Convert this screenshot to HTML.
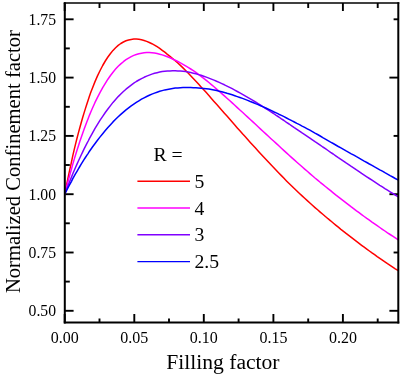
<!DOCTYPE html>
<html><head><meta charset="utf-8"><style>
html,body{margin:0;padding:0;background:#fff;}
svg{display:block;font-family:"Liberation Serif",serif;}
</style></head><body>
<svg width="403" height="376" viewBox="0 0 403 376">
<rect width="403" height="376" fill="#fff"/>
<defs><clipPath id="c"><rect x="64.80" y="2.95" width="333.50" height="319.55"/></clipPath></defs>
<g fill="none" stroke="#000" stroke-width="1.9">
<path d="M64.7 322.5V314.1M64.7 3.0V11.1"/><path d="M99.5 322.5V318.4M99.5 3.0V7.9"/><path d="M134.3 322.5V314.1M134.3 3.0V11.1"/><path d="M169.0 322.5V318.4M169.0 3.0V7.9"/><path d="M203.8 322.5V314.1M203.8 3.0V11.1"/><path d="M238.6 322.5V318.4M238.6 3.0V7.9"/><path d="M273.4 322.5V314.1M273.4 3.0V11.1"/><path d="M308.2 322.5V318.4M308.2 3.0V7.9"/><path d="M342.9 322.5V314.1M342.9 3.0V11.1"/><path d="M377.7 322.5V318.4M377.7 3.0V7.9"/><path d="M64.8 310.8H73.6"/><path d="M64.8 281.6H69.8"/><path d="M64.8 252.5H73.6"/><path d="M64.8 223.3H69.8"/><path d="M64.8 194.2H73.6"/><path d="M64.8 165.0H69.8"/><path d="M64.8 135.9H73.6"/><path d="M64.8 106.8H69.8"/><path d="M64.8 77.6H73.6"/><path d="M64.8 48.4H69.8"/><path d="M64.8 19.3H73.6"/><path d="M398.3 310.8H389.4"/><path d="M398.3 252.5H393.6"/><path d="M398.3 194.2H389.4"/><path d="M398.3 135.9H393.6"/><path d="M398.3 77.6H389.4"/><path d="M398.3 19.3H393.6"/>
</g>
<g clip-path="url(#c)" fill="none" stroke-width="1.5" stroke-linejoin="round">
<path d="M64.5 195.1L65.9 188.1L67.3 181.3L68.7 174.7L70.1 168.2L71.5 161.8L72.8 155.7L74.2 149.7L75.6 143.9L77.0 138.3L78.4 132.9L79.8 127.7L81.2 122.7L82.6 117.8L84.0 113.1L85.4 108.6L86.8 104.2L88.2 100.0L89.5 96.0L90.9 92.1L92.3 88.4L94.9 81.9L97.5 75.9L100.1 70.5L102.7 65.5L105.3 61.0L107.9 57.0L110.5 53.5L113.0 50.4L115.6 47.7L118.2 45.4L120.8 43.5L123.4 42.0L126.0 40.8L128.6 40.0L131.2 39.4L133.8 39.1L136.3 39.1L138.9 39.3L141.5 39.8L144.1 40.5L146.7 41.4L149.3 42.5L151.9 43.7L154.5 45.1L157.1 46.7L159.7 48.4L162.2 50.3L164.8 52.2L167.4 54.3L170.0 56.3L172.6 58.5L175.2 60.7L177.8 63.0L180.4 65.4L183.0 67.9L185.6 70.5L188.1 73.1L190.7 75.8L193.3 78.5L195.9 81.2L198.5 84.0L201.1 86.9L203.7 89.7L206.3 92.6L208.9 95.5L211.4 98.4L214.0 101.4L216.6 104.3L219.2 107.3L221.8 110.2L224.4 113.2L227.0 116.1L229.6 119.1L232.2 122.1L234.8 125.0L237.3 127.9L239.9 130.8L242.5 133.8L245.1 136.6L247.7 139.5L250.3 142.4L252.9 145.2L255.5 148.1L258.1 150.9L260.6 153.7L263.2 156.5L265.8 159.2L268.4 162.0L271.0 164.8L273.6 167.5L276.2 170.3L278.8 173.0L281.4 175.6L284.0 178.3L286.5 180.9L289.1 183.5L291.7 186.0L294.3 188.5L296.9 191.0L299.5 193.5L302.1 195.9L304.7 198.3L307.3 200.6L309.9 203.0L312.4 205.3L315.0 207.6L317.6 209.8L320.2 212.1L322.8 214.3L325.4 216.5L328.0 218.7L330.6 220.8L333.2 223.0L335.7 225.1L338.3 227.2L340.9 229.3L343.5 231.3L346.1 233.4L348.7 235.4L351.3 237.4L353.9 239.4L356.5 241.4L359.1 243.4L361.6 245.3L364.2 247.2L366.8 249.1L369.4 251.0L372.0 252.9L374.6 254.7L377.2 256.6L379.8 258.4L382.4 260.2L384.9 261.9L387.5 263.7L390.1 265.4L392.7 267.1L395.3 268.8L397.9 270.4L400.5 272.1" stroke="#ff0000"/>
<path d="M64.5 194.9L65.9 189.5L67.3 184.2L68.7 179.0L70.1 173.9L71.5 169.0L72.8 164.1L74.2 159.4L75.6 154.8L77.0 150.3L78.4 145.9L79.8 141.6L81.2 137.5L82.6 133.5L84.0 129.6L85.4 125.8L86.8 122.1L88.2 118.5L89.5 115.1L90.9 111.7L92.3 108.5L94.9 102.7L97.5 97.3L100.1 92.3L102.7 87.6L105.3 83.3L107.9 79.2L110.5 75.5L113.0 72.2L115.6 69.1L118.2 66.3L120.8 63.9L123.4 61.7L126.0 59.7L128.6 58.1L131.2 56.6L133.8 55.4L136.3 54.5L138.9 53.7L141.5 53.2L144.1 52.8L146.7 52.6L149.3 52.6L151.9 52.8L154.5 53.1L157.1 53.6L159.7 54.2L162.2 54.9L164.8 55.8L167.4 56.8L170.0 57.8L172.6 59.0L175.2 60.2L177.8 61.5L180.4 62.9L183.0 64.3L185.6 65.9L188.1 67.4L190.7 69.0L193.3 70.7L195.9 72.4L198.5 74.3L201.1 76.3L203.7 78.3L206.3 80.4L208.9 82.5L211.4 84.6L214.0 86.8L216.6 89.1L219.2 91.3L221.8 93.6L224.4 95.9L227.0 98.2L229.6 100.5L232.2 102.9L234.8 105.2L237.3 107.6L239.9 110.0L242.5 112.3L245.1 114.7L247.7 117.1L250.3 119.5L252.9 121.9L255.5 124.3L258.1 126.7L260.6 129.1L263.2 131.5L265.8 133.9L268.4 136.3L271.0 138.7L273.6 141.0L276.2 143.4L278.8 145.8L281.4 148.2L284.0 150.6L286.5 152.9L289.1 155.3L291.7 157.6L294.3 159.9L296.9 162.2L299.5 164.5L302.1 166.8L304.7 169.1L307.3 171.3L309.9 173.6L312.4 175.8L315.0 178.0L317.6 180.1L320.2 182.3L322.8 184.4L325.4 186.5L328.0 188.6L330.6 190.7L333.2 192.8L335.7 194.9L338.3 196.9L340.9 198.9L343.5 200.9L346.1 202.9L348.7 204.9L351.3 206.9L353.9 208.8L356.5 210.8L359.1 212.7L361.6 214.6L364.2 216.5L366.8 218.4L369.4 220.2L372.0 222.1L374.6 223.9L377.2 225.7L379.8 227.5L382.4 229.3L384.9 231.0L387.5 232.8L390.1 234.5L392.7 236.2L395.3 237.9L397.9 239.6L400.5 241.3" stroke="#ff00ff"/>
<path d="M64.5 194.7L65.9 191.1L67.3 187.5L68.7 184.0L70.1 180.5L71.5 177.1L72.8 173.8L74.2 170.5L75.6 167.3L77.0 164.1L78.4 161.0L79.8 158.0L81.2 155.0L82.6 152.1L84.0 149.2L85.4 146.4L86.8 143.7L88.2 141.0L89.5 138.3L90.9 135.8L92.3 133.3L94.9 128.7L97.5 124.4L100.1 120.2L102.7 116.3L105.3 112.5L107.9 109.0L110.5 105.6L113.0 102.4L115.6 99.4L118.2 96.6L120.8 94.0L123.4 91.5L126.0 89.2L128.6 87.1L131.2 85.1L133.8 83.2L136.3 81.5L138.9 80.0L141.5 78.6L144.1 77.3L146.7 76.1L149.3 75.1L151.9 74.1L154.5 73.3L157.1 72.7L159.7 72.1L162.2 71.6L164.8 71.3L167.4 71.0L170.0 70.9L172.6 70.8L175.2 70.8L177.8 70.9L180.4 71.0L183.0 71.2L185.6 71.6L188.1 72.1L190.7 72.6L193.3 73.2L195.9 73.8L198.5 74.6L201.1 75.3L203.7 76.2L206.3 77.1L208.9 78.1L211.4 79.1L214.0 80.1L216.6 81.3L219.2 82.4L221.8 83.6L224.4 84.8L227.0 86.1L229.6 87.4L232.2 88.7L234.8 90.1L237.3 91.5L239.9 92.9L242.5 94.3L245.1 95.8L247.7 97.3L250.3 98.8L252.9 100.4L255.5 102.0L258.1 103.6L260.6 105.2L263.2 106.8L265.8 108.5L268.4 110.2L271.0 111.8L273.6 113.5L276.2 115.3L278.8 117.0L281.4 118.8L284.0 120.5L286.5 122.3L289.1 124.0L291.7 125.8L294.3 127.6L296.9 129.3L299.5 131.1L302.1 132.9L304.7 134.6L307.3 136.4L309.9 138.2L312.4 139.9L315.0 141.7L317.6 143.4L320.2 145.2L322.8 147.0L325.4 148.7L328.0 150.5L330.6 152.3L333.2 154.0L335.7 155.8L338.3 157.6L340.9 159.3L343.5 161.1L346.1 162.9L348.7 164.6L351.3 166.4L353.9 168.1L356.5 169.9L359.1 171.6L361.6 173.4L364.2 175.1L366.8 176.8L369.4 178.5L372.0 180.2L374.6 181.9L377.2 183.6L379.8 185.3L382.4 186.9L384.9 188.6L387.5 190.2L390.1 191.8L392.7 193.4L395.3 195.0L397.9 196.6L400.5 198.2" stroke="#8000ff"/>
<path d="M64.5 194.6L65.9 191.9L67.3 189.2L68.7 186.5L70.1 183.9L71.5 181.3L72.8 178.7L74.2 176.2L75.6 173.7L77.0 171.3L78.4 168.9L79.8 166.5L81.2 164.2L82.6 161.9L84.0 159.7L85.4 157.5L86.8 155.4L88.2 153.3L89.5 151.2L90.9 149.2L92.3 147.2L94.9 143.7L97.5 140.2L100.1 136.9L102.7 133.7L105.3 130.6L107.9 127.6L110.5 124.7L113.0 121.9L115.6 119.3L118.2 116.8L120.8 114.4L123.4 112.1L126.0 109.9L128.6 107.9L131.2 105.9L133.8 104.1L136.3 102.4L138.9 100.8L141.5 99.2L144.1 97.8L146.7 96.5L149.3 95.3L151.9 94.1L154.5 93.1L157.1 92.2L159.7 91.3L162.2 90.6L164.8 89.9L167.4 89.4L170.0 88.9L172.6 88.5L175.2 88.1L177.8 87.9L180.4 87.7L183.0 87.6L185.6 87.5L188.1 87.5L190.7 87.6L193.3 87.7L195.9 87.8L198.5 88.0L201.1 88.2L203.7 88.4L206.3 88.7L208.9 89.1L211.4 89.6L214.0 90.1L216.6 90.6L219.2 91.2L221.8 91.8L224.4 92.5L227.0 93.3L229.6 94.0L232.2 94.8L234.8 95.7L237.3 96.6L239.9 97.5L242.5 98.4L245.1 99.4L247.7 100.4L250.3 101.5L252.9 102.5L255.5 103.6L258.1 104.6L260.6 105.8L263.2 106.9L265.8 108.0L268.4 109.2L271.0 110.4L273.6 111.7L276.2 112.9L278.8 114.2L281.4 115.4L284.0 116.7L286.5 118.0L289.1 119.3L291.7 120.7L294.3 122.0L296.9 123.4L299.5 124.7L302.1 126.1L304.7 127.4L307.3 128.8L309.9 130.2L312.4 131.6L315.0 133.1L317.6 134.5L320.2 136.0L322.8 137.6L325.4 139.1L328.0 140.6L330.6 142.1L333.2 143.5L335.7 145.0L338.3 146.5L340.9 147.9L343.5 149.4L346.1 150.9L348.7 152.3L351.3 153.8L353.9 155.2L356.5 156.7L359.1 158.1L361.6 159.6L364.2 161.1L366.8 162.5L369.4 164.0L372.0 165.4L374.6 166.9L377.2 168.3L379.8 169.8L382.4 171.2L384.9 172.7L387.5 174.1L390.1 175.6L392.7 177.0L395.3 178.5L397.9 179.9L400.5 181.3" stroke="#0000ff"/>
</g>
<g fill="none" stroke="#000">
<path d="M64.80 2.15V323.50M398.30 2.15V323.50" stroke-width="2.0"/>
<path d="M63.80 2.95H399.30" stroke-width="1.6"/><path d="M63.80 322.50H399.30" stroke-width="2.0"/>
</g>
<g fill="none" stroke-width="1.45"><path d="M137.4 181.2H190" stroke="#ff0000"/><path d="M137.4 208.0H190" stroke="#ff00ff"/><path d="M137.4 234.8H190" stroke="#8000ff"/><path d="M137.4 261.6H190" stroke="#0000ff"/></g>
<g style="filter:grayscale(1)" fill="#000">
<g font-size="16"><text x="56.0" y="316.1" text-anchor="end" font-size="15.7">0.50</text><text x="56.0" y="257.8" text-anchor="end" font-size="15.7">0.75</text><text x="56.0" y="199.5" text-anchor="end" font-size="15.7">1.00</text><text x="56.0" y="141.2" text-anchor="end" font-size="15.7">1.25</text><text x="56.0" y="82.9" text-anchor="end" font-size="15.7">1.50</text><text x="56.0" y="24.6" text-anchor="end" font-size="15.7">1.75</text><text x="64.7" y="343.2" text-anchor="middle">0.00</text><text x="134.3" y="343.2" text-anchor="middle">0.05</text><text x="203.8" y="343.2" text-anchor="middle">0.10</text><text x="273.4" y="343.2" text-anchor="middle">0.15</text><text x="342.9" y="343.2" text-anchor="middle">0.20</text></g>
<g font-size="19.7"><text x="194.4" y="187.7">5</text><text x="194.4" y="214.5">4</text><text x="194.4" y="241.3">3</text><text x="194.4" y="268.1">2.5</text><text x="153.4" y="161.1">R =</text></g>
<text x="222.9" y="369.2" font-size="21.6" text-anchor="middle">Filling factor</text>
<text transform="translate(19.9 161.6) rotate(-90)" font-size="20.6" text-anchor="middle">Normalized Confinement factor</text>
</g>
</svg>
</body></html>
